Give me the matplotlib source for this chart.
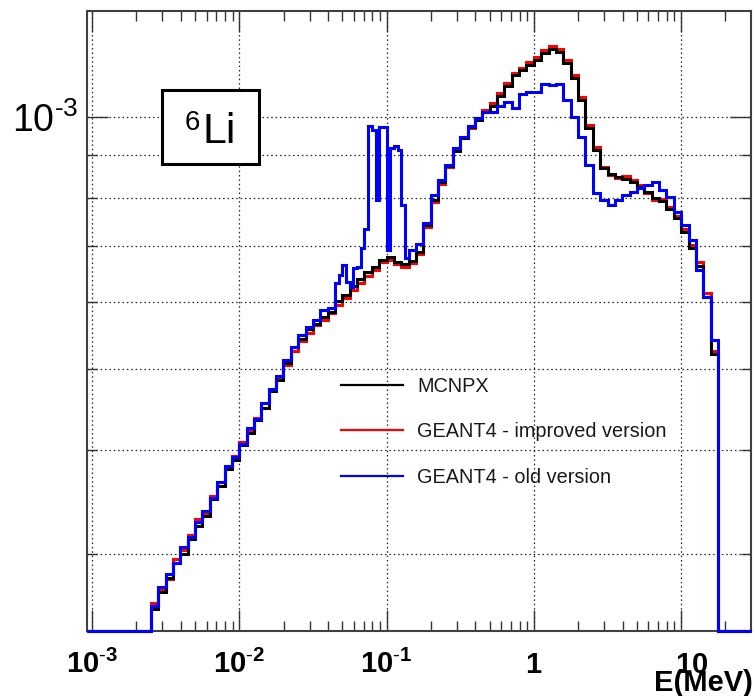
import numpy as np
import matplotlib
matplotlib.use('Agg')
import matplotlib.pyplot as plt
from matplotlib import font_manager
from matplotlib.lines import Line2D
from matplotlib.patches import Rectangle
from matplotlib.ticker import FixedLocator, NullFormatter
from matplotlib.transforms import offset_copy

_names = {f.name for f in font_manager.fontManager.ttflist}
NARROW = 'Liberation Sans Narrow' if 'Liberation Sans Narrow' in _names else 'Liberation Sans'

plt.rcParams['font.family'] = ['Liberation Sans', 'DejaVu Sans']
plt.rcParams['mathtext.fontset'] = 'custom'
plt.rcParams['mathtext.rm'] = 'Liberation Sans'
plt.rcParams['mathtext.it'] = 'Liberation Sans:italic'
plt.rcParams['mathtext.bf'] = NARROW + ':bold'

# ---------------- data (values in units of 1e-4) ----------------
VALUE_UNIT = 1e-4
# log10(E/MeV) bin edges
EDGES_LOG = np.linspace(-2.60, 1.25, 78)
BLUE_EDGES_LOG = np.concatenate([np.linspace(-2.60, -1.40, 25),
                                 np.linspace(-1.35, -0.875, 20),
                                 np.linspace(-0.85, 1.25, 43)])

MCNPX = [2.58, 2.70, 2.81, 2.93, 3.00, 3.13, 3.24, 3.33, 3.49, 3.62,
         3.79, 3.89, 4.05, 4.19, 4.34, 4.48, 4.70, 4.84, 5.08, 5.30,
         5.43, 5.57, 5.66, 5.77, 5.85, 6.02, 6.13, 6.27, 6.39, 6.53,
         6.62, 6.75, 6.80, 6.71, 6.66, 6.73, 6.90, 7.43, 7.96, 8.36,
         8.74, 9.10, 9.44, 9.73, 9.92, 10.14, 10.31, 10.60, 10.89, 11.22,
         11.38, 11.54, 11.70, 11.93, 12.06, 11.96, 11.60, 11.13, 10.48, 9.70,
         9.13, 8.69, 8.55, 8.48, 8.43, 8.36, 8.25, 8.14, 8.00, 7.94,
         7.76, 7.57, 7.29, 6.97, 6.63, 6.09, 5.20]

G4_IMPROVED = [2.62, 2.72, 2.80, 2.96, 3.03, 3.16, 3.30, 3.36, 3.52, 3.66,
               3.80, 3.93, 4.08, 4.22, 4.36, 4.55, 4.72, 4.86, 5.05, 5.25,
               5.40, 5.52, 5.63, 5.72, 5.83, 5.96, 6.08, 6.20, 6.33, 6.45,
               6.56, 6.70, 6.75, 6.66, 6.62, 6.69, 6.86, 7.38, 7.90, 8.31,
               8.70, 9.12, 9.47, 9.70, 9.95, 10.20, 10.38, 10.68, 10.98, 11.30,
               11.45, 11.62, 11.80, 12.02, 12.15, 12.05, 11.70, 11.22, 10.55, 9.78,
               9.20, 8.72, 8.52, 8.45, 8.50, 8.40, 8.28, 8.10, 7.95, 7.98,
               7.80, 7.62, 7.35, 7.02, 6.70, 6.15, 5.25]

G4_OLD = [2.60, 2.74, 2.84, 2.93, 3.06, 3.14, 3.28, 3.38, 3.50, 3.66,
          3.82, 3.92, 4.06, 4.24, 4.35, 4.55, 4.72, 4.90, 5.12, 5.30,
          5.48, 5.60, 5.71, 5.88, 5.91,
          6.33, 6.47, 6.65, 6.35, 6.26, 6.59, 6.61, 6.97, 7.35, 9.76,
          9.65, 7.96, 9.73, 9.73, 6.93, 9.18, 9.23, 9.13, 7.85, 6.78,
          6.93, 7.05, 7.47, 8.06, 8.41, 8.76, 9.18, 9.47, 9.76, 9.97,
          10.14, 10.14, 10.31, 10.43, 10.25, 10.66, 10.72, 10.72, 10.95, 10.92,
          10.95, 10.48, 10.00, 9.47, 8.76, 8.11, 7.96, 7.85, 7.96, 8.07,
          8.13, 8.22, 8.29, 8.36, 8.18, 8.02, 7.70, 7.43, 7.13, 6.56,
          6.09, 5.41]

LABELS = ['MCNPX', 'GEANT4 - improved version', 'GEANT4 - old version']
COLORS = ['#000000', '#ff0000', '#0000ff']

XTICKS = [1e-3, 1e-2, 1e-1, 1, 10]
XTICK_LABELS = [r'$\mathbf{10^{\text{-}3}}$', r'$\mathbf{10^{\text{-}2}}$',
                r'$\mathbf{10^{\text{-}1}}$', r'$\mathbf{1}$', r'$\mathbf{10}$']
YTICKS = [1e-3]
YTICK_LABELS = [r'$10^{\text{-}3}$']
XLIM = (9.25e-4, 29.8)
YLIM = (2.427e-4, 1.3386e-3)

# ---------------- figure ----------------
W, H = 755, 696
fig = plt.figure(figsize=(W / 100, H / 100), dpi=100)
fig.patch.set_facecolor('white')
L, R, T, B = 87, 751, 11, 631
ax = fig.add_axes([L / W, (H - B) / H, (R - L) / W, (B - T) / H])
ax.set_xscale('log')
ax.set_yscale('log')
ax.set_xlim(*XLIM)
ax.set_ylim(*YLIM)


def draw(edges_log, vals, color, z):
    e = np.concatenate([[XLIM[0]], 10 ** np.asarray(edges_log), [XLIM[1]]])
    v = np.concatenate([[YLIM[0]], np.asarray(vals) * VALUE_UNIT, [YLIM[0]]])
    ax.stairs(v, e, baseline=None, color=color, lw=2.2, zorder=z, clip_on=False)


draw(EDGES_LOG, G4_IMPROVED, COLORS[1], 3)
draw(EDGES_LOG, MCNPX, COLORS[0], 4)
draw(BLUE_EDGES_LOG, G4_OLD, COLORS[2], 5)

# ticks
ax.xaxis.set_major_locator(FixedLocator(XTICKS))
ax.set_xticklabels(XTICK_LABELS)
xminor = [m * 10.0 ** d for d in range(-3, 2) for m in range(2, 10)]
xminor = [v for v in xminor if XLIM[0] < v < XLIM[1]]
ax.xaxis.set_minor_locator(FixedLocator(xminor))
ax.xaxis.set_minor_formatter(NullFormatter())
ax.yaxis.set_major_locator(FixedLocator(YTICKS))
ax.set_yticklabels(YTICK_LABELS)
yminor = [m * 1e-4 for m in range(2, 10)]
yminor = [v for v in yminor if YLIM[0] < v < YLIM[1]]
ax.yaxis.set_minor_locator(FixedLocator(yminor))
ax.yaxis.set_minor_formatter(NullFormatter())

ax.tick_params(which='both', direction='in', top=True, right=True,
               color='#333333', width=1.0)
ax.tick_params(which='major', length=15)
ax.tick_params(which='minor', length=7.5)
ax.tick_params(axis='x', which='major', labelsize=21, pad=30, labelcolor='black')
ax.tick_params(axis='y', which='major', labelsize=27, pad=6.5, labelcolor='black')
for lbl in ax.get_xticklabels():
    lbl.set_verticalalignment('baseline')
xl = ax.get_xticklabels()
xl[-1].set_transform(offset_copy(xl[-1].get_transform(), fig=fig, x=10, y=0, units='dots'))

for s in ax.spines.values():
    s.set_color('#404040')
    s.set_linewidth(1.5)

grid_kw = dict(color='#222222', lw=0.9, ls=(0, (1.2, 2.3)), zorder=1)
ax.grid(True, which='major', axis='x', **grid_kw)
ax.grid(True, which='both', axis='y', **grid_kw)
ax.set_axisbelow(True)

# axis title
ax.set_xlabel('E(MeV)', fontsize=21, fontweight='bold', family=[NARROW, 'Liberation Sans'])
ax.xaxis.set_label_coords((753 - L) / (R - L), (B - 691) / (B - T))
ax.xaxis.label.set_horizontalalignment('right')
ax.xaxis.label.set_verticalalignment('baseline')


def fx(px):
    return (px - L) / (R - L)


def fy(py):
    return (B - py) / (B - T)


# 6Li box
ax.add_patch(Rectangle((fx(162), fy(164)), fx(259) - fx(162), fy(90) - fy(164),
                       transform=ax.transAxes, facecolor='white', edgecolor='black',
                       lw=2.2, zorder=6))
ax.text(fx(203), fy(143), 'Li', transform=ax.transAxes, fontsize=31,
        ha='left', va='baseline', zorder=7)
ax.text(fx(185), fy(130), '6', transform=ax.transAxes, fontsize=20,
        ha='left', va='baseline', zorder=7)

# legend
handles = [Line2D([], [], color=c, lw=1.6) for c in COLORS]
ax.legend(handles, LABELS, loc='upper left', bbox_to_anchor=(fx(341), fy(377)),
          bbox_transform=ax.transAxes, frameon=False, borderpad=0, borderaxespad=0,
          handlelength=3.1, handletextpad=0.75, labelspacing=1.33, fontsize=14.3,
          labelcolor='#1a1a1a')

fig.savefig('out.png', dpi=100)
